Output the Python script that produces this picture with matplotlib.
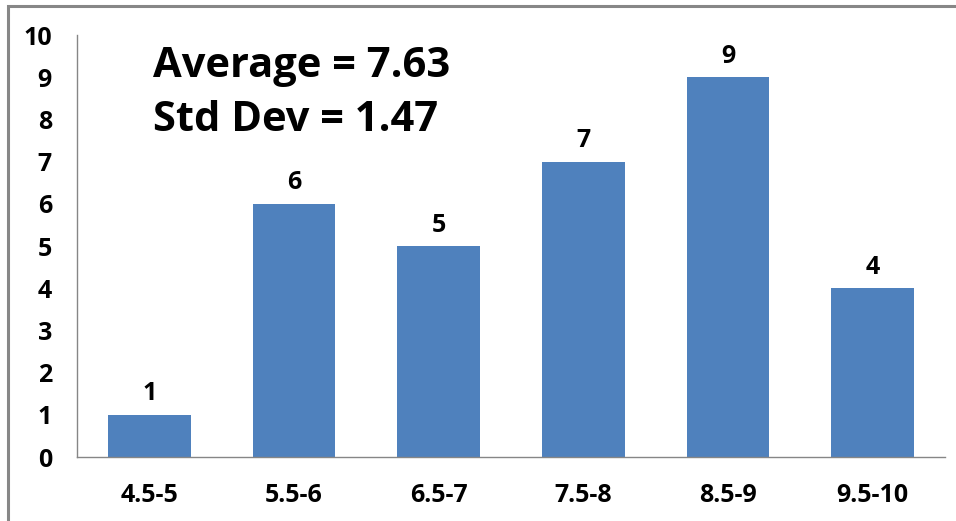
import matplotlib.pyplot as plt
from matplotlib.patches import Rectangle

categories = ['4.5-5', '5.5-6', '6.5-7', '7.5-8', '8.5-9', '9.5-10']
counts = [1, 6, 5, 7, 9, 4]
yticks = list(range(0, 11))
stats_text = 'Average = 7.63\nStd Dev = 1.47'

plt.rcParams['font.family'] = ['Open Sans', 'DejaVu Sans']
plt.rcParams['font.weight'] = 'bold'

fig = plt.figure(figsize=(9.56, 5.21), dpi=100)
ax = fig.add_axes([0.0805, 0.1228, 0.908, 0.81])

x = range(len(categories))
bars = ax.bar(x, counts, width=0.57, color='#4F81BD')
for b, v in zip(bars, counts):
    ax.annotate(str(v), (b.get_x() + b.get_width() / 2, v), xytext=(0, 6),
                textcoords='offset points', ha='center', va='bottom',
                fontsize=18, fontweight='bold')

ax.set_xlim(-0.5, len(categories) - 0.5)
ax.set_ylim(0, 10)
ax.set_yticks(yticks)
ax.set_xticks(list(x))
ax.set_xticklabels(categories)
ax.tick_params(axis='both', length=0, labelsize=18)
ax.tick_params(axis='y', pad=18)
ax.tick_params(axis='x', pad=19)
for lab in ax.get_xticklabels() + ax.get_yticklabels():
    lab.set_fontweight('bold')

for s in ['top', 'right']:
    ax.spines[s].set_visible(False)
for s in ['left', 'bottom']:
    ax.spines[s].set_color('#868686')
    ax.spines[s].set_linewidth(1)

ax.text(0.088, 0.975, stats_text, transform=ax.transAxes, fontsize=30,
        fontweight='bold', va='top', ha='left', linespacing=1.42)

# outer chart frame
fig.patches.append(Rectangle((8 / 956, -0.1), 1.2, 1 - 6 / 521 + 0.1,
                             transform=fig.transFigure, fill=False,
                             edgecolor='#878787', linewidth=2.2))

fig.savefig('out.png', dpi=100)
